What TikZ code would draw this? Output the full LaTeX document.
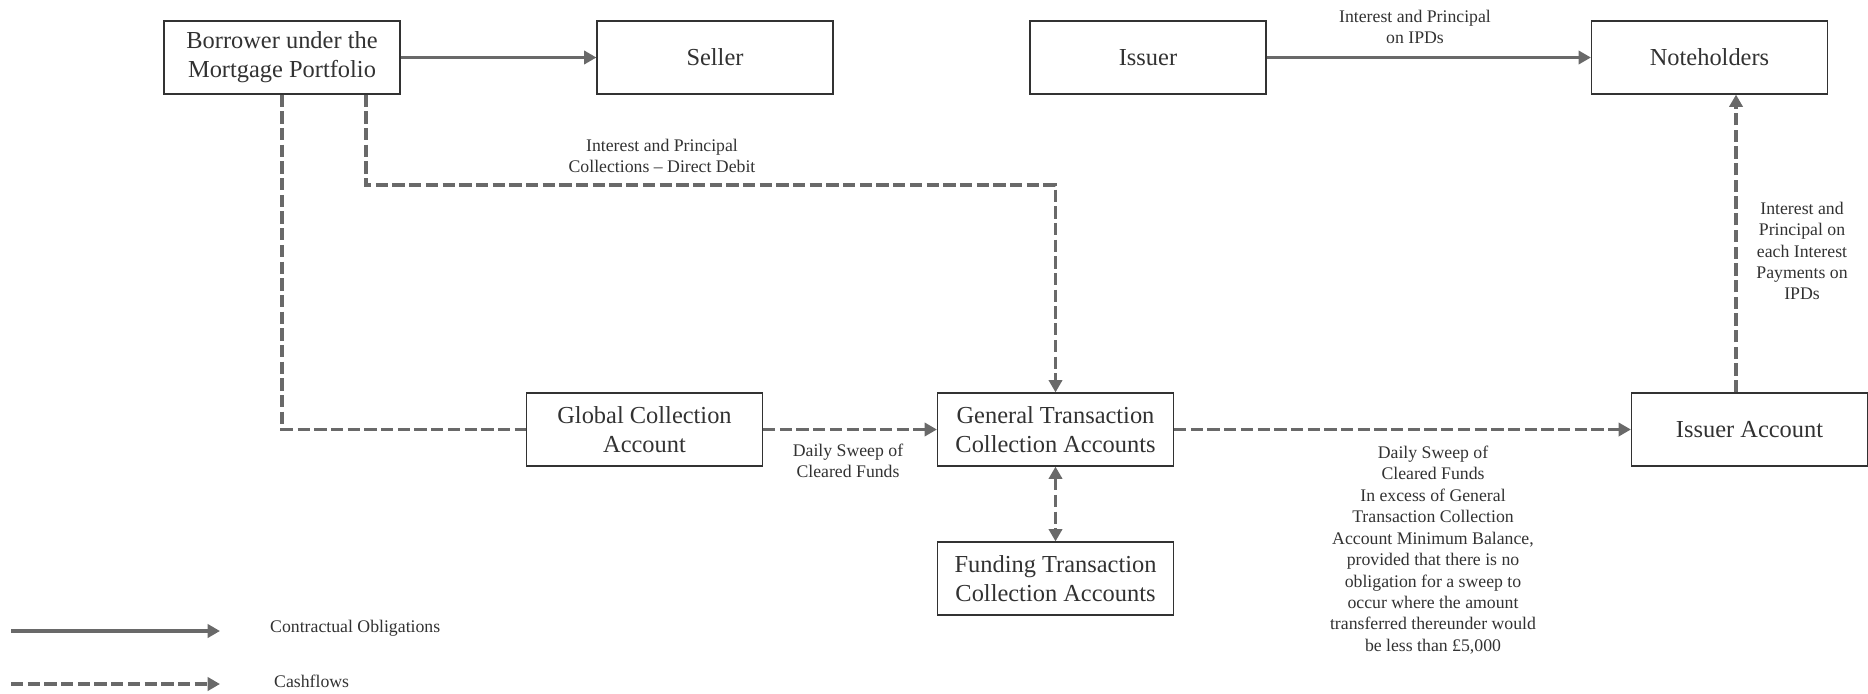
\documentclass[tikz,border=0pt]{standalone}
\usepackage{fontspec}
\setmainfont{Liberation Serif}
\usetikzlibrary{arrows.meta}
\definecolor{flowgrey}{RGB}{105,105,105}
\definecolor{inkgrey}{RGB}{50,50,50}

\begin{document}
\begin{tikzpicture}[
x=0.02cm, y=-0.02cm,
>={Triangle[length=7pt,width=7.5pt]},
box/.style={
draw=inkgrey,
line width=0.7pt,
align=center,
text=inkgrey,
minimum width=4.72cm,
minimum height=1.46cm,
font=\fontsize{13.9}{16.5}\selectfont
},
note/.style={
align=center,
text=inkgrey,
font=\fontsize{10.1}{12.2}\selectfont
},
oblig/.style={
draw=flowgrey,
line width=2.2pt,
->
},
cash/.style={
oblig,
dash pattern=on 7pt off 2.5pt
}
]
\useasboundingbox (0,0) rectangle (1868,693);

\node[box] (borrower) at (282,57.5)
{Borrower under the\\Mortgage Portfolio};

\node[box] (seller) at (715,57.5)
{Seller};

\node[box] (issuer) at (1148,57.5)
{Issuer};

\node[box] (nh) at (1709.5,57.5)
{Noteholders};

\node[box] (gca) at (644.5,429.5)
{Global Collection\\Account};

\node[box] (gtca) at (1055.5,429.5)
{General Transaction\\Collection Accounts};

\node[box] (ftca) at (1055.5,578.5)
{Funding Transaction\\Collection Accounts};

\node[box] (issacc) at (1749.5,429.5)
{Issuer Account};

\node[note] (ddlab) at (662,156)
{Interest and Principal\\Collections – Direct Debit};

\node[note] (ipdlab) at (1415,27)
{Interest and Principal\\on IPDs};

\node[note] (gcalab) at (848,461)
{Daily Sweep of\\Cleared Funds};

\node[note] (sweeplab) at (1433,550)
{Daily Sweep of\\Cleared Funds\\In excess of General\\Transaction Collection\\Account Minimum Balance,\\provided that there is no\\obligation for a sweep to\\occur where the amount\\transferred thereunder would\\be less than £5,000};

\node[note] (nhlab) at (1802,251)
{Interest and\\Principal on\\each Interest\\Payments on\\IPDs};

\coordinate (dd) at (366,185);
\coordinate (up) at (1736,0);

\draw[oblig] (borrower) -- (seller);
\draw[oblig] (issuer) -- (nh);
\draw[cash,-] (borrower.south) |- (gca.west);
\draw[cash] (borrower.south -| dd) |- (gtca.north |- dd) -- (gtca.north);
\draw[cash] (gca) -- (gtca);
\draw[cash,<->] (gtca) -- (ftca);
\draw[cash] (gtca) -- (issacc);
\draw[cash] (issacc.north -| up) -- (nh.south -| up);

% key
\coordinate (keyA) at (11,631);
\coordinate (keyB) at (220,631);
\coordinate (keyC) at (11,684);
\coordinate (keyD) at (220,684);

\node[note,anchor=west] (keyob) at (264,628)
{Contractual Obligations};

\node[note,anchor=west] (keycf) at (268,681)
{Cashflows};

\draw[oblig] (keyA) -- (keyB);
\draw[cash] (keyC) -- (keyD);

\end{tikzpicture}
\end{document}
